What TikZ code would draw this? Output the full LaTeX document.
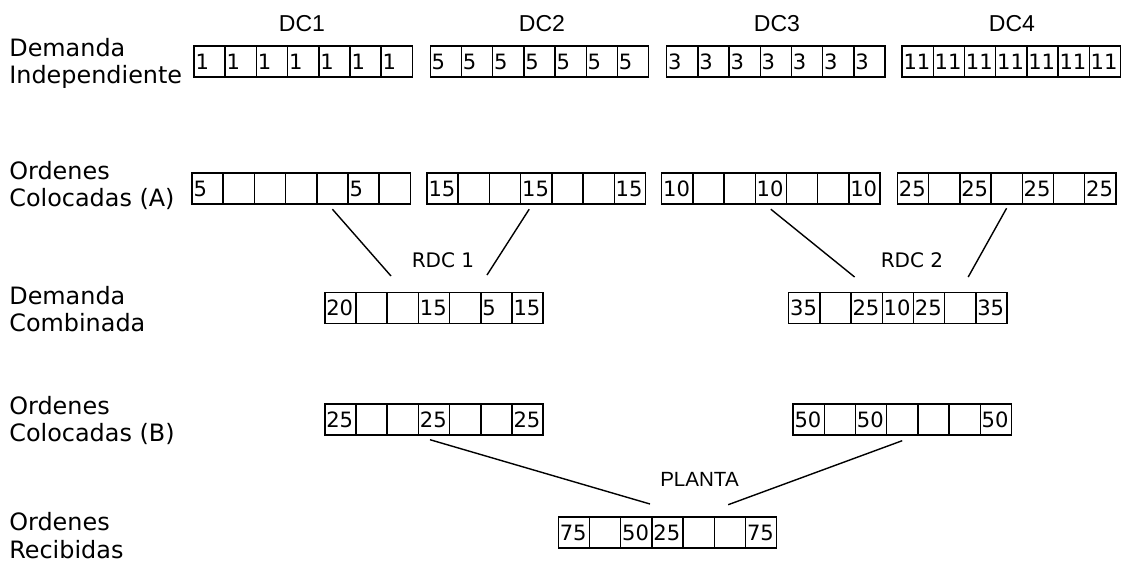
\documentclass[tikz,border=0pt]{standalone}
\usepackage{fontspec}
\setmainfont{DejaVu Sans}
\newfontfamily\arialFont{Liberation Sans}

\newcommand{\labelFont}{\fontsize{13.6}{15.6}\selectfont}
\newcommand{\cellFont}{\fontsize{12}{13}\selectfont}
\newcommand{\dcFont}{\arialFont\fontsize{13.1}{15}\selectfont}
\newcommand{\rdcFont}{\fontsize{11.4}{13}\selectfont}
\newcommand{\plantaFont}{\arialFont\fontsize{11.7}{14}\selectfont}

\newcommand{\cellW}{31.2}
\newcommand{\rowOne  }{61.5}
\newcommand{\rowTwo  }{188.5}
\newcommand{\rowThree}{308.0}
\newcommand{\rowFour }{419.5}
\newcommand{\rowFive }{532.5}

% one block of seven cells: name, left x, centre y, entries
\newcommand{\cellRow}[4]{%
  \foreach \val [count=\k from 0] in {#4}
    \node[cell] (#1-\k) at (#2+\k*\cellW+0.5*\cellW, #3) {\val};
}

\begin{document}
\begin{tikzpicture}[x=0.02cm, y=-0.02cm,
  cell/.style={draw, line width=0.8pt, minimum width=0.624cm, minimum height=0.62cm,
    inner xsep=0.03cm, inner ysep=0pt, text width=0.564cm, align=left, font=\cellFont},
  rowLabel/.style={anchor=west, inner sep=0pt, align=left, font=\labelFont},
  link/.style={line width=0.8pt}]

  \useasboundingbox (0,0) rectangle (1126,562);

  % Row labels:
  \node[rowLabel] (lblIndep) at (9,\rowOne  +2) {Demanda\\Independiente};
  \node[rowLabel] (lblOrdA ) at (9,\rowTwo  -3) {Ordenes\\Colocadas (A)};
  \node[rowLabel] (lblComb ) at (9,\rowThree+1) {Demanda\\Combinada};
  \node[rowLabel] (lblOrdB ) at (9,\rowFour +1) {Ordenes\\Colocadas (B)};
  \node[rowLabel] (lblRecib) at (9,\rowFive +3) {Ordenes\\Recibidas};

  % Distribution centres:
  \node[font=\dcFont] (dcOne  ) at (302,24) {DC1};
  \node[font=\dcFont] (dcTwo  ) at (542,24) {DC2};
  \node[font=\dcFont] (dcThree) at (777,24) {DC3};
  \node[font=\dcFont] (dcFour ) at (1012,24) {DC4};

  % Independent demand:
  \cellRow{d1}{194.0}{\rowOne}{1,1,1,1,1,1,1}
  \cellRow{d2}{430.2}{\rowOne}{5,5,5,5,5,5,5}
  \cellRow{d3}{666.6}{\rowOne}{3,3,3,3,3,3,3}
  \cellRow{d4}{902.0}{\rowOne}{11,11,11,11,11,11,11}

  % Orders placed (A):
  \cellRow{a1}{192.0}{\rowTwo}{5,{},{},{},{},5,{}}
  \cellRow{a2}{427.0}{\rowTwo}{15,{},{},15,{},{},15}
  \cellRow{a3}{661.6}{\rowTwo}{10,{},{},10,{},{},10}
  \cellRow{a4}{897.4}{\rowTwo}{25,{},25,{},25,{},25}

  % Combined demand:
  \cellRow{c1}{324.8}{\rowThree}{20,{},{},15,{},5,15}
  \cellRow{c2}{788.6}{\rowThree}{35,{},25,10,25,{},35}

  % Orders placed (B):
  \cellRow{b1}{324.8}{\rowFour}{25,{},{},25,{},{},25}
  \cellRow{b2}{793.0}{\rowFour}{50,{},50,{},{},{},50}

  % Orders received:
  \cellRow{p1}{558.3}{\rowFive}{75,{},50,25,{},{},75}

  % Regional DCs and plant:
  \node[font=\rdcFont   ] (rdcOne) at (443,260) {RDC 1};
  \node[font=\rdcFont   ] (rdcTwo) at (912,260) {RDC 2};
  \node[font=\plantaFont] (planta) at (699.5,479) {PLANTA};

  \coordinate (rdcOneL) at (391,276);
  \coordinate (rdcOneR) at (487,275);
  \coordinate (rdcTwoL) at (854.6,277);
  \coordinate (rdcTwoR) at (968.2,277);
  \coordinate (plantaL) at (650,504);
  \coordinate (plantaR) at (728.2,504.7);

  \draw[link] ([yshift=-0.09cm]a1-4.south) -- (rdcOneL);
  \draw[link] ([xshift=-0.14cm,yshift=-0.09cm]a2-3.south) -- (rdcOneR);
  \draw[link] ([yshift=-0.09cm]a3-3.south) -- (rdcTwoL);
  \draw[link] ([yshift=-0.07cm]a4-3.south) -- (rdcTwoR);
  \draw[link] ([xshift=-0.08cm,yshift=-0.08cm]b1-3.south) -- (plantaL);
  \draw[link] ([yshift=-0.1cm]b2-3.south) -- (plantaR);

\end{tikzpicture}
\end{document}
